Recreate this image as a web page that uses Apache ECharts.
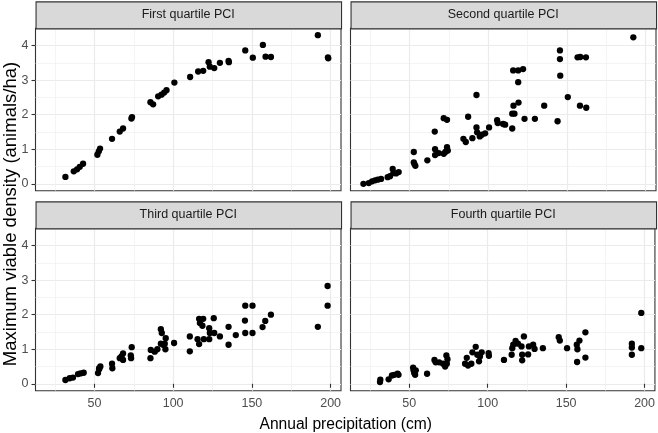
<!DOCTYPE html>
<html>
<head>
<meta charset="utf-8">
<script src="https://cdn.jsdelivr.net/npm/echarts@6/dist/echarts.min.js"></script>
<style>html,body{margin:0;padding:0;background:#fff;}#c{width:658px;height:433px;}</style>
</head>
<body>
<div id="c"></div>
<script>
// ---- data ----
const panelTitles = ['First quartile PCI', 'Second quartile PCI', 'Third quartile PCI', 'Fourth quartile PCI'];
const xTitle = 'Annual precipitation (cm)';
const yTitle = 'Maximum viable density (animals/ha)';
const xMajorTicks = [50, 100, 150, 200];
const xMinorTicks = [25, 75, 125, 175];
const yMajorTicks = [0, 1, 2, 3, 4];
const yMinorTicks = [0.5, 1.5, 2.5, 3.5];

const q1Precip  = [31.6, 36.9, 39.0, 40.7, 42.8, 51.9, 52.8, 53.6, 61.2, 66.1, 68.2, 73.5, 73.9, 85.6, 87.3, 90.5, 92.6, 94.3, 95.8, 100.8, 110.8, 115.9, 119.1, 122.5, 123.3, 126.1, 129.7, 135.2, 135.4, 145.8, 150.6, 157.0, 158.7, 162.1, 191.9, 198.3, 198.5];
const q1Density = [0.20, 0.36, 0.42, 0.49, 0.58, 0.84, 0.94, 1.02, 1.30, 1.51, 1.60, 1.89, 1.93, 2.36, 2.30, 2.53, 2.58, 2.64, 2.71, 2.93, 3.09, 3.25, 3.27, 3.52, 3.39, 3.35, 3.50, 3.56, 3.52, 3.86, 3.65, 4.02, 3.68, 3.67, 4.30, 3.66, 3.63];

const q2Precip  = [20.8, 24.2, 26.3, 28.2, 29.9, 32.0, 36.2, 37.7, 39.4, 39.8, 41.5, 43.2, 52.8, 52.8, 53.8, 53.2, 61.4, 66.1, 66.3, 66.3, 68.6, 71.8, 71.8, 73.9, 73.9, 74.4, 72.9, 84.3, 85.8, 87.3, 90.0, 92.6, 92.6, 93.0, 94.7, 96.0, 98.1, 100.6, 105.7, 106.1, 109.5, 110.8, 115.3, 115.3, 116.7, 116.1, 119.3, 115.9, 119.1, 122.2, 119.1, 123.1, 129.7, 135.6, 144.1, 145.6, 145.6, 145.8, 150.6, 156.8, 158.5, 162.1, 158.3, 162.3, 192.2];
const q2Density = [0.00, 0.02, 0.07, 0.10, 0.12, 0.14, 0.19, 0.22, 0.43, 0.31, 0.30, 0.34, 0.92, 0.62, 0.52, 0.57, 0.68, 1.51, 1.00, 0.83, 0.89, 0.87, 1.90, 1.85, 1.06, 0.96, 0.92, 1.30, 1.21, 1.94, 1.32, 2.57, 1.63, 1.49, 1.37, 1.42, 1.46, 1.63, 1.84, 1.76, 1.73, 1.71, 1.60, 2.03, 2.03, 2.26, 2.35, 3.28, 3.28, 3.32, 2.94, 1.88, 1.88, 2.26, 1.81, 3.86, 3.61, 3.13, 2.51, 3.66, 3.67, 3.66, 2.26, 2.20, 4.24];

const q3Precip  = [31.6, 34.3, 36.4, 39.6, 41.1, 43.2, 52.3, 53.0, 53.8, 53.0, 61.2, 61.4, 66.1, 67.2, 68.2, 68.2, 73.1, 73.7, 73.3, 85.6, 85.8, 88.3, 90.0, 92.2, 92.8, 92.2, 93.6, 95.1, 95.3, 94.7, 100.6, 110.6, 110.6, 115.5, 116.5, 116.5, 119.1, 117.0, 118.6, 119.5, 122.9, 123.3, 122.9, 125.8, 126.1, 129.7, 135.2, 135.2, 139.8, 145.8, 145.6, 145.8, 150.4, 150.4, 156.8, 158.5, 162.1, 191.9, 198.1, 198.1];
const q3Density = [0.11, 0.16, 0.18, 0.28, 0.30, 0.32, 0.31, 0.42, 0.50, 0.45, 0.58, 0.45, 0.74, 0.79, 0.69, 0.88, 0.82, 1.06, 0.74, 0.74, 0.98, 0.93, 1.00, 1.58, 1.47, 1.16, 1.13, 1.00, 1.32, 1.16, 1.18, 1.37, 0.94, 1.29, 1.88, 1.15, 1.88, 1.76, 1.68, 1.29, 1.61, 1.47, 1.29, 1.90, 1.47, 1.37, 1.65, 1.13, 1.41, 2.26, 1.83, 1.47, 2.26, 1.47, 1.64, 1.82, 2.00, 1.65, 2.83, 2.26];

const q4Precip  = [31.4, 31.6, 36.9, 39.0, 40.5, 42.6, 43.2, 52.5, 52.8, 53.2, 53.8, 54.2, 61.4, 66.1, 66.9, 69.1, 71.6, 72.9, 73.7, 74.4, 74.0, 85.6, 86.7, 87.5, 89.6, 90.3, 92.4, 93.4, 94.5, 95.1, 96.2, 100.6, 100.8, 110.4, 115.3, 115.7, 116.3, 117.8, 119.3, 121.6, 122.0, 122.0, 123.1, 125.8, 126.3, 129.0, 129.9, 135.2, 145.3, 146.0, 150.6, 156.8, 157.2, 157.0, 158.5, 162.3, 162.3, 191.9, 191.9, 191.9, 197.9, 197.9];
const q4Density = [0.05, 0.12, 0.13, 0.24, 0.26, 0.29, 0.26, 0.47, 0.39, 0.31, 0.26, 0.39, 0.29, 0.69, 0.62, 0.62, 0.58, 0.50, 0.82, 0.71, 0.58, 0.58, 0.75, 0.53, 0.58, 0.91, 1.07, 0.84, 0.65, 0.79, 0.91, 0.89, 0.81, 0.69, 0.84, 1.03, 1.13, 1.24, 1.16, 1.08, 0.84, 0.68, 1.37, 0.85, 1.08, 1.13, 1.01, 1.03, 1.35, 1.25, 1.03, 1.13, 1.00, 0.63, 1.25, 1.49, 0.76, 1.16, 1.05, 0.84, 2.05, 1.03];

const panelPrecip = [q1Precip, q2Precip, q3Precip, q4Precip];
const panelDensity = [q1Density, q2Density, q3Density, q4Density];

// ---- layout ----
const X_MIN = 12.6, X_MAX = 206.6, Y_MIN = -0.2, Y_MAX = 4.5;
const PANEL_LEFT = [35.5, 350.5];
const PANEL_TOP = [28.3, 228.3];
const PANEL_W = 305.5, PANEL_H = 162.4, STRIP_H = 27;
const FONT = '"Liberation Sans", Arial, Helvetica, sans-serif';

const grids = [], xAxes = [], yAxes = [], series = [], graphics = [];
for (let i = 0; i < 4; i++) {
  const r = Math.floor(i / 2), c = i % 2;
  grids.push({
    left: PANEL_LEFT[c], top: PANEL_TOP[r], width: PANEL_W, height: PANEL_H,
    show: true, backgroundColor: '#FFFFFF', borderColor: '#333333', borderWidth: 1.1, containLabel: false
  });
  const showX = r === 1, showY = c === 0;
  xAxes.push({
    type: 'value', gridIndex: i, min: X_MIN, max: X_MAX,
    axisLine: { show: false },
    axisTick: { show: showX, length: 4, lineStyle: { color: '#333333', width: 1.1 }, customValues: xMajorTicks },
    axisLabel: { show: showX, color: '#4D4D4D', fontSize: 12.5, fontFamily: FONT, margin: 6, customValues: xMajorTicks },
    splitLine: { show: true, lineStyle: { color: '#EBEBEB', width: 1.2 }, customValues: xMajorTicks }
  });
  yAxes.push({
    type: 'value', gridIndex: i, min: Y_MIN, max: Y_MAX,
    axisLine: { show: false },
    axisTick: { show: showY, length: 4, lineStyle: { color: '#333333', width: 1.1 }, customValues: yMajorTicks },
    axisLabel: { show: showY, color: '#4D4D4D', fontSize: 12.5, fontFamily: FONT, margin: 7, customValues: yMajorTicks },
    splitLine: { show: true, lineStyle: { color: '#EBEBEB', width: 1.2 }, customValues: yMajorTicks }
  });
}
for (let i = 0; i < 4; i++) {
  xAxes.push({
    type: 'value', gridIndex: i, min: X_MIN, max: X_MAX, position: 'top',
    axisLine: { show: false },
    axisTick: { show: false, customValues: xMinorTicks },
    axisLabel: { show: false, customValues: xMinorTicks },
    splitLine: { show: true, lineStyle: { color: '#EFEFEF', width: 0.7 }, customValues: xMinorTicks }
  });
  yAxes.push({
    type: 'value', gridIndex: i, min: Y_MIN, max: Y_MAX, position: 'right',
    axisLine: { show: false },
    axisTick: { show: false, customValues: yMinorTicks },
    axisLabel: { show: false, customValues: yMinorTicks },
    splitLine: { show: true, lineStyle: { color: '#EFEFEF', width: 0.7 }, customValues: yMinorTicks }
  });
}
for (let i = 0; i < 4; i++) {
  const pts = panelPrecip[i].map((x, k) => [x, panelDensity[i][k]]);
  series.push({
    type: 'scatter', xAxisIndex: i, yAxisIndex: i, data: pts,
    symbol: 'circle', symbolSize: 6.3, itemStyle: { color: '#000000', opacity: 1 },
    silent: true, z: 5
  });
  const r = Math.floor(i / 2), c = i % 2;
  graphics.push({
    type: 'rect', left: PANEL_LEFT[c], top: PANEL_TOP[r] - STRIP_H,
    shape: { width: PANEL_W, height: STRIP_H },
    style: { fill: '#D9D9D9', stroke: '#333333', lineWidth: 1.1 }, z: 10
  });
  graphics.push({
    type: 'text', x: PANEL_LEFT[c] + PANEL_W / 2, y: PANEL_TOP[r] - STRIP_H / 2,
    style: { text: panelTitles[i], fill: '#1A1A1A', font: '12.5px ' + FONT, textAlign: 'center', textVerticalAlign: 'middle' }, z: 11
  });
}
graphics.push({
  type: 'text', x: (PANEL_LEFT[0] + PANEL_LEFT[1] + PANEL_W) / 2, y: 425,
  style: { text: xTitle, fill: '#000000', font: '15.6px ' + FONT, textAlign: 'center', textVerticalAlign: 'middle' }
});
graphics.push({
  type: 'text', x: 10.5, y: 214, rotation: Math.PI / 2,
  style: { text: yTitle, fill: '#000000', font: '18.5px ' + FONT, textAlign: 'center', textVerticalAlign: 'middle' }
});

const chart = echarts.init(document.getElementById('c'), null, { renderer: 'canvas' });
chart.setOption({
  animation: false,
  backgroundColor: '#FFFFFF',
  grid: grids, xAxis: xAxes, yAxis: yAxes, series: series, graphic: graphics
});
</script>
</body>
</html>
